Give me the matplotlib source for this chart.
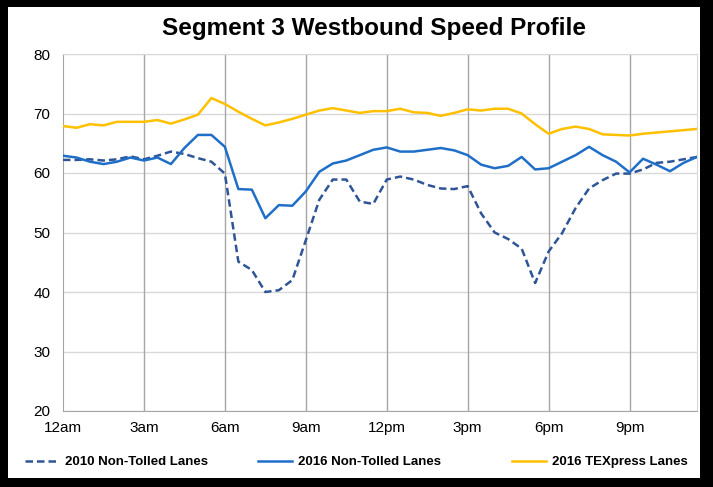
import matplotlib
matplotlib.use("Agg")
import matplotlib.pyplot as plt
from matplotlib.patches import Rectangle
import numpy as np

plt.rcParams['font.family'] = ['Liberation Sans', 'DejaVu Sans']

# half-hour time steps, 12am .. 11:30pm
hours = np.arange(0, 24, 0.5)

speed_2010 = [62.2, 62.2, 62.3, 62.1, 62.3, 62.8, 62.3, 62.9, 63.6, 63.2,
              62.5, 61.9, 59.9, 45.1, 43.7, 40.0, 40.3, 42.0, 48.7, 55.5,
              58.9, 58.9, 55.2, 54.8, 58.9, 59.4, 58.9, 58.0, 57.4, 57.3,
              57.8, 53.2, 50.0, 48.9, 47.3, 41.5, 46.8, 49.9, 54.1, 57.4,
              58.8, 59.9, 59.9, 60.6, 61.7, 61.9, 62.3, 62.7]

speed_2016 = [62.9, 62.6, 61.9, 61.5, 61.9, 62.6, 62.1, 62.6, 61.5, 64.2,
              66.4, 66.4, 64.4, 57.3, 57.2, 52.4, 54.6, 54.5, 56.9, 60.2,
              61.6, 62.1, 63.0, 63.9, 64.3, 63.6, 63.6, 63.9, 64.2, 63.8,
              63.0, 61.4, 60.8, 61.2, 62.7, 60.6, 60.8, 61.9, 63.0, 64.4,
              63.0, 61.9, 60.1, 62.4, 61.4, 60.3, 61.7, 62.7]

speed_texpress = [67.9, 67.6, 68.2, 68.0, 68.6, 68.6, 68.6, 68.9, 68.3, 69.0,
                  69.8, 72.6, 71.6, 70.3, 69.1, 68.0, 68.5, 69.1, 69.8, 70.5,
                  70.9, 70.5, 70.1, 70.4, 70.4, 70.8, 70.2, 70.1, 69.6, 70.1,
                  70.7, 70.5, 70.8, 70.8, 70.0, 68.2, 66.6, 67.4, 67.8, 67.4,
                  66.5, 66.4, 66.3, 66.6, 66.8, 67.0, 67.2, 67.4]

tick_hours = [0, 3, 6, 9, 12, 15, 18, 21]
tick_labels = ['12am', '3am', '6am', '9am', '12pm', '3pm', '6pm', '9pm']

fig = plt.figure(figsize=(7.13, 4.87), dpi=100, facecolor='black')
# white card inside the black frame
fig.patches.append(Rectangle((8 / 713, 1 - 478 / 487), (700 - 8) / 713, (478 - 7) / 487,
                             transform=fig.transFigure, facecolor='white',
                             edgecolor='none', zorder=-5))

ax = fig.add_axes([63 / 713, 1 - 411 / 487, (697 - 63) / 713, (411 - 54) / 487])
ax.set_facecolor('white')

l1, = ax.plot(hours, speed_2010, color='#2F5597', linestyle=(0, (3, 1.6)), linewidth=1.8,
              label='2010 Non-Tolled Lanes', zorder=3)
l2, = ax.plot(hours, speed_2016, color='#1F6FC8', linewidth=1.8,
              label='2016 Non-Tolled Lanes', zorder=3)
l3, = ax.plot(hours, speed_texpress, color='#FFC000', linewidth=1.8,
              label='2016 TEXpress Lanes', zorder=3)

ax.set_xlim(0, 23.5)
ax.set_ylim(20, 80)
ax.set_yticks(range(20, 81, 10))
ax.set_xticks(tick_hours)
ax.set_xticklabels(tick_labels)
ax.tick_params(axis='both', length=0, labelsize=11, colors='black')
ax.tick_params(axis='y', pad=9)
ax.tick_params(axis='x', pad=7)

ax.yaxis.grid(True, color='#D9D9D9', linewidth=1)
ax.set_axisbelow(True)
for h in tick_hours[1:]:
    ax.axvline(h, color='#A6A6A6', linewidth=1, zorder=1)
ax.spines['left'].set_color('#A6A6A6')
ax.spines['bottom'].set_color('#A6A6A6')
ax.spines['top'].set_color('#D9D9D9')
ax.spines['right'].set_color('#D9D9D9')

fig.text(374 / 713, 1 - 28 / 487, 'Segment 3 Westbound Speed Profile',
         ha='center', va='center', fontsize=17.5, fontweight='bold')

# one legend entry per series, spaced like the original
for line, x0 in zip([l1, l2, l3], [25, 258, 512]):
    fig.legend(handles=[line], loc='center left',
               bbox_to_anchor=(x0 / 713, 1 - 462 / 487),
               frameon=False, handlelength=2.6, handletextpad=0.45,
               borderpad=0, borderaxespad=0,
               prop={'weight': 'bold', 'size': 9.5})

fig.savefig('out.png', dpi=100, facecolor='black')
